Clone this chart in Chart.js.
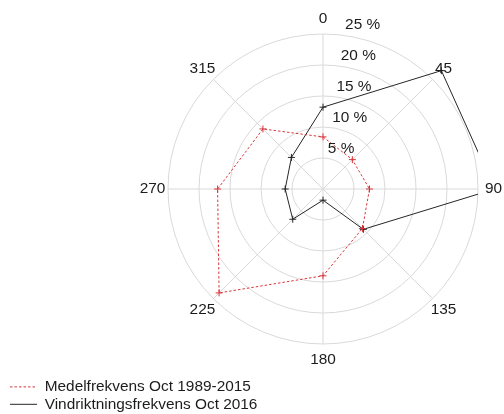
<!DOCTYPE html>
<html>
<head>
<meta charset="utf-8">
<script src="https://cdn.jsdelivr.net/npm/chart.js@4/dist/chart.umd.min.js"></script>
<style>
  html, body { margin: 0; padding: 0; background: #ffffff; }
  #wrap { width: 504px; height: 414px; }
</style>
</head>
<body>
<div id="wrap"><canvas id="rose" width="504" height="414"></canvas></div>
<script>
// Wind direction (degrees, clockwise from north)
const directions = ['0', '45', '90', '135', '180', '225', '270', '315'];
// Share of observations per direction, %
const meanOct1989to2015 = [8.4, 6.7, 7.5, 9.0, 14.0, 23.7, 17.0, 13.7];
const oct2016 = [13.2, 27.0, 27.7, 9.2, 1.8, 6.9, 6.1, 7.2];
// Ring values on the radial axis
const ringTicks = [5, 10, 15, 20, 25];
const seriesNames = ['Medelfrekvens Oct 1989-2015', 'Vindriktningsfrekvens Oct 2016'];

const FONT = "'Liberation Sans', Arial, Helvetica, sans-serif";
const FONT_SIZE = 15.4;
const TEXT = '#1c1c1c';
const RED = 'rgb(215,55,60)';
const BLACK = '#262626';
const GRID = '#d9d9d9';
// Polar frame: centre and outer radius on the canvas
const POLAR = { cx: 323, cy: 189, r: 155 };

// Clips the traces to the square frame around the polar grid and
// writes the direction and ring labels.
const polarDecor = {
  id: 'polarDecor',
  beforeDatasetsDraw(chart) {
    const s = chart.scales.r;
    const ctx = chart.ctx;
    ctx.save();
    ctx.beginPath();
    ctx.rect(s.xCenter - s.drawingArea, s.yCenter - s.drawingArea,
             2 * s.drawingArea, 2 * s.drawingArea);
    ctx.clip();
  },
  afterDatasetsDraw(chart) {
    const ctx = chart.ctx;
    ctx.restore();
    const s = chart.scales.r;
    ctx.save();
    ctx.font = FONT_SIZE + 'px ' + FONT;
    ctx.fillStyle = TEXT;
    ctx.textAlign = 'center';
    ctx.textBaseline = 'middle';
    directions.forEach((d, i) => {
      const p = s.getPointPosition(i, s.drawingArea * 1.1);
      ctx.fillText(d, p.x, p.y);
    });
    ctx.textAlign = 'left';
    const tilt = 8 * Math.PI / 180;
    ringTicks.forEach(v => {
      const dist = s.getDistanceFromCenterForValue(v);
      const p = s.getPointPosition(0, dist, tilt);
      ctx.fillText(v + ' %', p.x + 0.5, s.yCenter - dist - 9);
    });
    ctx.restore();
  }
};

new Chart(document.getElementById('rose'), {
  type: 'radar',
  data: {
    labels: directions,
    datasets: [
      {
        label: seriesNames[0],
        data: meanOct1989to2015,
        borderColor: RED,
        backgroundColor: 'rgba(0,0,0,0)',
        borderWidth: 1,
        borderDash: [2.5, 2],
        fill: false,
        pointStyle: 'cross',
        pointRadius: 3.5,
        pointBorderColor: RED,
        pointBorderWidth: 1
      },
      {
        label: seriesNames[1],
        data: oct2016,
        borderColor: BLACK,
        backgroundColor: 'rgba(0,0,0,0)',
        borderWidth: 1,
        fill: false,
        pointStyle: 'cross',
        pointRadius: 3.5,
        pointBorderColor: BLACK,
        pointBorderWidth: 1
      }
    ]
  },
  options: {
    responsive: false,
    animation: false,
    events: [],
    // wide right padding keeps the two legend entries on separate rows
    layout: { padding: { left: 8, right: 60, top: 0, bottom: -8 } },
    plugins: {
      tooltip: { enabled: false },
      legend: {
        position: 'bottom',
        align: 'start',
        labels: {
          usePointStyle: true,
          pointStyle: 'line',
          pointStyleWidth: 27,
          padding: 2,
          color: TEXT,
          font: { size: FONT_SIZE, family: FONT },
          generateLabels(chart) {
            const items = Chart.defaults.plugins.legend.labels.generateLabels(chart);
            items.forEach(it => {
              const ds = chart.data.datasets[it.datasetIndex];
              it.lineDash = ds.borderDash || [];
              it.strokeStyle = ds.borderColor;
              it.lineWidth = ds.borderWidth;
            });
            return items;
          }
        }
      }
    },
    scales: {
      r: {
        min: 0,
        max: 25,
        ticks: { display: false, stepSize: 5 },
        pointLabels: { display: false },
        grid: { circular: true, color: GRID, lineWidth: 1 },
        angleLines: { display: true, color: GRID, lineWidth: 1 },
        afterFit(scale) {
          scale.xCenter = POLAR.cx;
          scale.yCenter = POLAR.cy;
          scale.drawingArea = POLAR.r;
        }
      }
    }
  },
  plugins: [polarDecor]
});
</script>
</body>
</html>
